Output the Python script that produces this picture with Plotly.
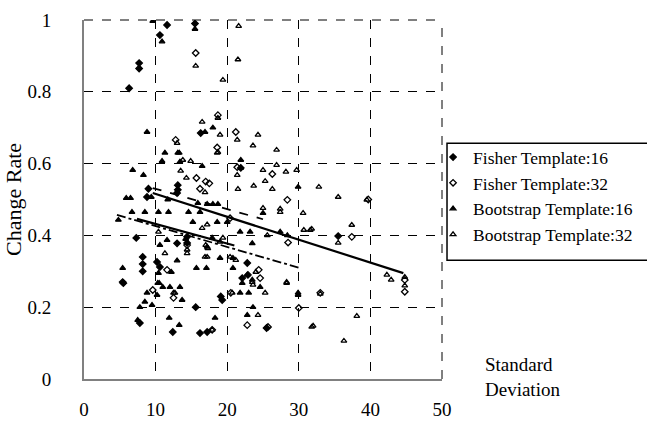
import plotly.graph_objects as go

# ---- data ----
f16_x = [11.6,10.6,15.5,7.7,7.7,6.3,16.3,13.1,13.1,8.8,7.3,13.0,14.4,8.2,8.2,8.2,10.2,10.6,5.4,15.6,19.3,19.1,22.8,22.1,22.9,7.8,12.4,16.2,17.2,25.5,21.9,35.5,13.0,5.5,14.4,9.0]
f16_y = [0.986,0.958,0.99,0.88,0.865,0.81,0.685,0.54,0.527,0.507,0.393,0.378,0.379,0.34,0.32,0.30,0.326,0.312,0.27,0.2,0.22,0.23,0.323,0.281,0.29,0.156,0.131,0.128,0.131,0.142,0.588,0.398,0.518,0.267,0.396,0.53]

f32_x = [15.6,18.7,12.8,21.2,18.6,21.4,26.3,15.7,17.0,16.2,28.4,39.7,37.4,28.5,44.8,44.8,14.4,11.6,12.5,24.4,24.6,22.8,33.0,30.0,9.6,17.9,25.7,20.5,20.4,17.5]
f32_y = [0.908,0.735,0.666,0.688,0.645,0.59,0.571,0.56,0.55,0.53,0.499,0.50,0.396,0.38,0.276,0.243,0.373,0.304,0.226,0.304,0.281,0.15,0.24,0.198,0.248,0.137,0.145,0.24,0.448,0.545]

b16_x = [9.6,10.9,15.5,8.8,16.9,18.0,11.3,13.3,10.9,13.4,16.5,21.9,6.8,8.3,5.9,6.5,9.4,6.7,8.5,10.4,11.8,14.6,16.2,11.7,15.9,17.2,18.0,18.7,4.8,15.2,18.6,20.0,21.8,23.2,27.4,28.4,25.0,29.9,10.6,11.6,14.2,17.9,17.2,19.0,10.4,12.2,13.0,15.7,17.1,5.4,10.5,12.0,13.4,13.7,11.0,10.3,8.8,10.2,9.5,8.5,7.8,7.5,11.9,13.3,18.3,22.8,23.6,20.8,20.8,23.5,24.6,21.8,23.0,29.9,29.9,23.5,22.1,21.9,13.1]
b16_y = [0.997,0.94,0.975,0.688,0.688,0.70,0.63,0.63,0.607,0.605,0.593,0.61,0.582,0.568,0.504,0.504,0.507,0.465,0.465,0.465,0.465,0.465,0.465,0.50,0.49,0.487,0.487,0.487,0.443,0.437,0.437,0.437,0.41,0.41,0.41,0.40,0.462,0.535,0.373,0.387,0.39,0.393,0.368,0.337,0.295,0.298,0.33,0.309,0.309,0.309,0.267,0.256,0.256,0.22,0.256,0.267,0.24,0.234,0.206,0.215,0.2,0.164,0.17,0.15,0.17,0.178,0.2,0.337,0.309,0.276,0.256,0.24,0.24,0.234,0.24,0.378,0.267,0.588,0.63]

b32_x = [21.6,21.5,19.4,15.6,16.5,13.0,18.7,19.0,21.4,24.3,23.6,26.9,18.6,21.4,25.0,26.9,28.2,29.7,25.3,26.3,23.7,21.5,32.8,27.4,25.0,35.5,39.5,37.4,31.8,30.7,35.5,25.6,42.3,42.9,44.8,28.3,33.0,38.1,32.0,36.3,24.3,13.8,14.9,13.5,14.3,16.9,18.7,10.4,14.4,14.4,17.0,17.2,11.3,12.5,12.7,16.5,17.2,19.4,19.0,20.4,21.2,24.0,23.6,25.3,28.3,31.6,30.6,27.4,20.7,17.9,31.8,22.8,23.5,17.3,16.9,44.8]
b32_y = [0.983,0.89,0.833,0.872,0.716,0.657,0.727,0.68,0.666,0.68,0.65,0.638,0.63,0.568,0.582,0.596,0.577,0.582,0.551,0.529,0.538,0.529,0.535,0.474,0.476,0.507,0.499,0.429,0.418,0.415,0.379,0.40,0.29,0.276,0.284,0.267,0.237,0.175,0.148,0.106,0.178,0.61,0.607,0.58,0.56,0.52,0.632,0.41,0.36,0.35,0.373,0.34,0.35,0.24,0.24,0.42,0.43,0.393,0.382,0.34,0.331,0.298,0.262,0.24,0.27,0.415,0.462,0.465,0.24,0.137,0.145,0.29,0.27,0.364,0.34,0.26]

# regression lines (endpoints)
fit_b32_x = [9.6, 44.6]; fit_b32_y = [0.518, 0.295]
fit_f32_x = [9.6, 25.0]; fit_f32_y = [0.532, 0.445]
fit_f16_x = [7.4, 21.0]; fit_f16_y = [0.446, 0.372]
fit_b16_x = [4.6, 30.2]; fit_b16_y = [0.457, 0.309]

series_names = ["Fisher Template:16", "Fisher Template:32",
                "Bootstrap Template:16", "Bootstrap Template:32"]

FONT = "Liberation Serif"
fig = go.Figure()

sym = ["diamond", "diamond-open", "triangle-up", "triangle-up-open"]
xs = [f16_x, f32_x, b16_x, b32_x]
ys = [f16_y, f32_y, b16_y, b32_y]
for i, (name, s, x, y) in enumerate(zip(series_names, sym, xs, ys)):
    fig.add_trace(go.Scatter(x=x, y=y, mode="markers", name=name,
                             legendgroup=f"g{i}",
                             marker=dict(symbol=s, size=5, color="black",
                                         line=dict(color="black", width=1.3))))

lines = [(fit_b32_x, fit_b32_y, "solid", 2.2),
         (fit_f32_x, fit_f32_y, "dash", 1.8),
         (fit_f16_x, fit_f16_y, "solid", 2.2),
         (fit_b16_x, fit_b16_y, "dashdot", 1.8)]
for x, y, d, w in lines:
    fig.add_trace(go.Scatter(x=x, y=y, mode="lines", showlegend=False,
                             line=dict(color="black", width=w, dash=d)))

fig.update_layout(
    width=647, height=421,
    margin=dict(l=84, r=205, t=20, b=42, autoexpand=False),
    paper_bgcolor="white", plot_bgcolor="white",
    font=dict(family=FONT, color="black", size=19),
    legend=dict(x=0.975, y=0.668, xanchor="left", yanchor="top",
                borderwidth=0, bgcolor="rgba(0,0,0,0)",
                font=dict(family=FONT, size=17.5), tracegroupgap=0,
                itemwidth=30),
    xaxis=dict(range=[0, 50], tickvals=[0, 10, 20, 30, 40, 50],
               showgrid=True, gridcolor="black", griddash="dash", gridwidth=1,
               showline=True, linecolor="#808080", linewidth=2,
               ticks="", ticklabelstandoff=12, zeroline=False,
               automargin=False, tickfont=dict(size=19)),
    yaxis=dict(range=[0, 1], tickvals=[0, 0.2, 0.4, 0.6, 0.8, 1],
               ticktext=["0", "0.2", "0.4", "0.6", "0.8", "1"],
               showgrid=True, gridcolor="black", griddash="dash", gridwidth=1,
               showline=True, linecolor="#808080", linewidth=2,
               ticks="", ticklabelstandoff=27, zeroline=False,
               automargin=False,
               title=dict(text="Change Rate", font=dict(size=22), standoff=0),
               tickfont=dict(size=19)),
    annotations=[dict(text="Standard<br>Deviation", x=1.226, y=0.0,
                      xref="paper", yref="paper", xanchor="center",
                      yanchor="top", showarrow=False, align="left",
                      font=dict(family=FONT, size=19), yshift=27)],
    showlegend=True,
)
# dashed frame at top and right (part of grid)
fig.add_shape(type="line", xref="paper", yref="paper", x0=0, x1=1, y0=1, y1=1,
              line=dict(color="black", width=1, dash="dash"))
fig.add_shape(type="line", xref="paper", yref="paper", x0=1, x1=1, y0=0, y1=1,
              line=dict(color="black", width=1, dash="dash"))
# legend frame
fig.add_shape(type="rect", xref="paper", yref="paper",
              x0=1.014, x1=1.62, y0=0.331, y1=0.657,
              line=dict(color="black", width=1.5), fillcolor="rgba(0,0,0,0)")

fig.write_html("out.html")
